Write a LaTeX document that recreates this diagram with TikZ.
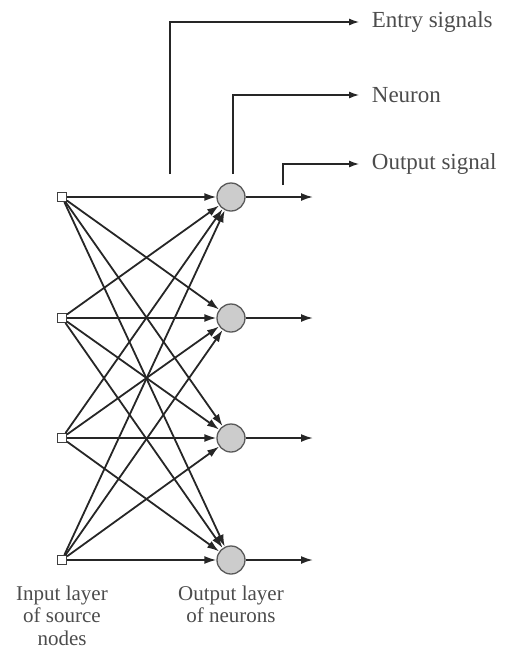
\documentclass[tikz,border=0pt]{standalone}
\usepackage{fontspec}
\setmainfont{Liberation Serif}
\usetikzlibrary{arrows.meta}
\begin{document}
\begin{tikzpicture}[x=1pt,y=-1pt,
  line width=1.8pt,
  conn/.style={draw=black!85,-{Latex[length=12pt,width=8pt]}},
  lead/.style={draw=black!85,line width=1.2pt,-{Latex[length=10pt,width=7pt]}},
  src/.style={draw=black!75,fill=white,line width=1pt,minimum size=9pt,inner sep=0pt},
  neu/.style={circle,draw=black!65,fill=black!20,line width=1.3pt,minimum size=28pt,inner sep=0pt},
  lbl/.style={font=\fontsize{23}{24}\selectfont,text=black!70,inner sep=0pt},
  captxt/.style={font=\fontsize{21}{22.5}\selectfont,text=black!70,inner sep=0pt,align=center}]
\useasboundingbox (0,0) rectangle (509,654);
\foreach \i/\y in {1/197,2/318,3/438,4/560}{
  \node[src] (s\i) at (62,\y) {};
  \node[neu] (n\i) at (231,\y) {};
  \coordinate (o\i) at (313,\y);
}
\foreach \i in {1,...,4}{
  \foreach \j in {1,...,4}{
    \draw[conn] (s\i) -- (n\j);
  }
  \draw[conn] (n\i) -- (o\i);
}
\node[lbl,anchor=west] (t1) at (371,22) {Entry signals};
\node[lbl,anchor=west] (t2) at (371,95) {Neuron};
\node[lbl,anchor=west] (t3) at (371,164) {Output signal};
\coordinate (c1) at (170,174);
\coordinate (c2) at (233,174);
\coordinate (c3) at (283,185);
\draw[lead] (c1) |- ([xshift=-12pt]t1.west);
\draw[lead] (c2) |- ([xshift=-12pt]t2.west);
\draw[lead] (c3) |- ([xshift=-12pt]t3.west);
\node[captxt,anchor=north] (l1) at (62,585) {Input layer\\of source\\nodes};
\node[captxt,anchor=north] (l2) at (231,585) {Output layer\\of neurons};
\end{tikzpicture}
\end{document}
